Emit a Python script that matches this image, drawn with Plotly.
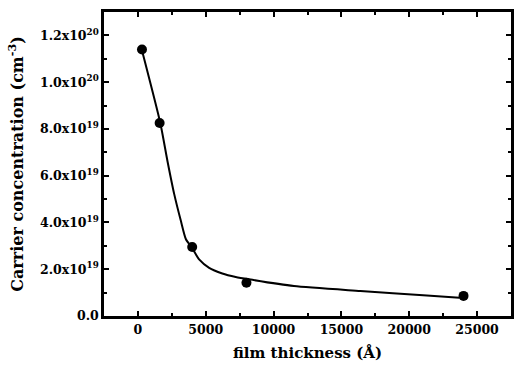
import plotly.graph_objects as go

# measured data points
thickness = [300, 1600, 4000, 8000, 24000]
concentration = [1.14e20, 8.25e19, 2.95e19, 1.42e19, 8.6e18]

# smooth fitted curve
curve_x = [316, 1650, 2180, 2680, 3170, 3540, 3980, 4510, 5250, 6220, 7210, 8180, 11500, 16400, 21300, 23700]
curve_y = [1.132e20, 8.25e19, 6.62e19, 5.20e19, 4.06e19, 3.28e19, 2.92e19, 2.42e19, 2.06e19, 1.82e19,
           1.67e19, 1.57e19, 1.28e19, 1.07e19, 8.8e18, 7.8e18]

y_tickvals = [0, 2e19, 4e19, 6e19, 8e19, 1.0e20, 1.2e20]
y_ticktext = ["0.0", "2.0x10<sup>19</sup>", "4.0x10<sup>19</sup>", "6.0x10<sup>19</sup>",
              "8.0x10<sup>19</sup>", "1.0x10<sup>20</sup>", "1.2x10<sup>20</sup>"]
x_tickvals = [0, 5000, 10000, 15000, 20000, 25000]
x_ticktext = ["0", "5000", "10000", "15000", "20000", "25000"]

font = "DejaVu Serif"

fig = go.Figure()
fig.add_trace(go.Scatter(x=curve_x, y=curve_y, mode="lines",
                         line=dict(color="black", width=2, shape="spline", smoothing=0.6),
                         hoverinfo="skip", showlegend=False))
fig.add_trace(go.Scatter(x=thickness, y=concentration, mode="markers",
                         marker=dict(color="black", size=10), showlegend=False))

fig.update_layout(
    width=514, height=369,
    margin=dict(l=104, r=3, t=12, b=53),
    paper_bgcolor="white", plot_bgcolor="white",
    font=dict(family=font, color="black", size=12.5),
    xaxis=dict(range=[-2500, 27500], tickvals=x_tickvals, ticktext=x_ticktext,
               automargin=False,
               ticks="inside", ticklen=5, tickwidth=1.5, tickcolor="black",
               minor=dict(ticks="inside", ticklen=3, tickwidth=1.5, tickcolor="black", dtick=2500, tick0=0),
               showline=True, linecolor="black", linewidth=2.5, mirror="ticks",
               showgrid=False, zeroline=False,
               tickfont=dict(family=font, size=12.5, color="black", weight="bold"),
               title=dict(text="film thickness (Å)", standoff=12,
                          font=dict(family=font, size=15, color="black", weight="bold"))),
    yaxis=dict(range=[0, 1.3e20], tickvals=y_tickvals, ticktext=y_ticktext,
               automargin=False,
               ticks="inside", ticklen=5, tickwidth=1.5, tickcolor="black",
               minor=dict(ticks="inside", ticklen=3, tickwidth=1.5, tickcolor="black", dtick=1e19, tick0=0),
               showline=True, linecolor="black", linewidth=2.5, mirror="ticks",
               showgrid=False, zeroline=False,
               tickfont=dict(family=font, size=12.5, color="black", weight="bold"),
               title=dict(text="Carrier concentration (cm<sup>-3</sup>)", standoff=13,
                          font=dict(family=font, size=16, color="black", weight="bold"))),
)

fig.write_html("out.html", config={"displayModeBar": False},
               post_script="document.body.style.margin='0';document.body.style.overflow='hidden';")
